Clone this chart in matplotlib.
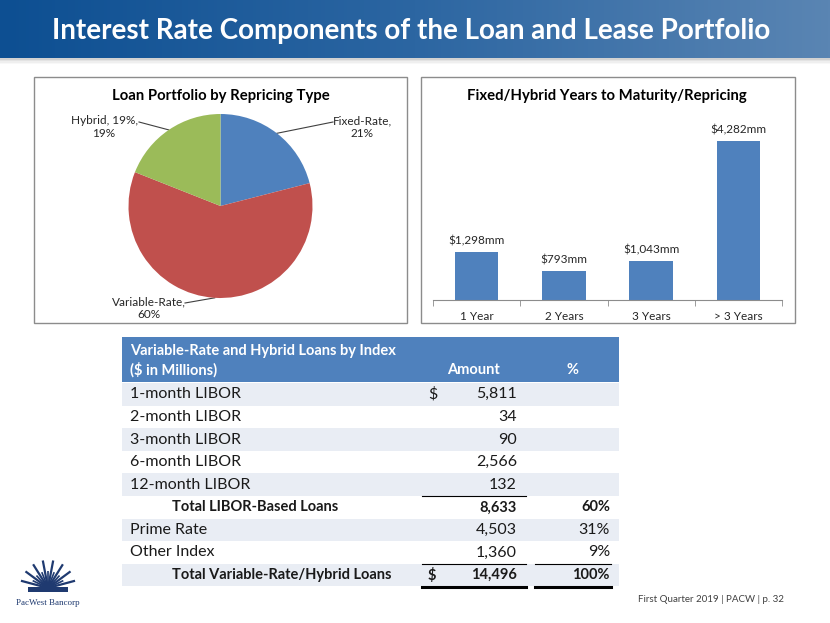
import numpy as np
import matplotlib
import matplotlib.pyplot as plt
from matplotlib.patches import Rectangle

matplotlib.use("Agg")
plt.rcParams["font.family"] = ["Lato", "DejaVu Sans"]

# pie data
pie_labels = ["Fixed-Rate", "Variable-Rate", "Hybrid"]
pie_shares = [21, 60, 19]
pie_colors = ["#4F81BD", "#C0504D", "#9BBB59"]

# bar data
bar_cats = ["1 Year", "2 Years", "3 Years", "> 3 Years"]
bar_vals = [1298, 793, 1043, 4282]

# table data
tbl_labels = ["1-month LIBOR", "2-month LIBOR", "3-month LIBOR", "6-month LIBOR",
              "12-month LIBOR", "Total LIBOR-Based Loans", "Prime Rate", "Other Index",
              "Total Variable-Rate/Hybrid Loans"]
tbl_amounts = [5811, 34, 90, 2566, 132, 8633, 4503, 1360, 14496]
tbl_pcts = ["", "", "", "", "", "60%", "31%", "9%", "100%"]
tbl_bold = [False, False, False, False, False, True, False, False, True]
tbl_dollar = [True, False, False, False, False, False, False, False, True]

W, H = 830, 623
fig = plt.figure(figsize=(W / 100, H / 100), dpi=100)


def px_axes(x, y, w, h, **kw):
    return fig.add_axes([x / W, 1 - (y + h) / H, w / W, h / H], **kw)


canvas = px_axes(0, 0, W, H)
canvas.set_xlim(0, W)
canvas.set_ylim(H, 0)
canvas.axis("off")

# title banner with gradient
grad = np.linspace(0, 1, 256).reshape(1, -1)
cmap = matplotlib.colors.LinearSegmentedColormap.from_list("ban", ["#0D4F92", "#2C66A2", "#5A85B3"])
canvas.imshow(grad, extent=(0, W, 58, 0), aspect="auto", cmap=cmap, zorder=1)
for i, a in enumerate([0.35, 0.22, 0.12, 0.05]):
    canvas.add_patch(Rectangle((0, 58 + i * 1.5), W, 1.5, color="#808080", alpha=a, lw=0, zorder=1))
canvas.text(411, 31, "Interest Rate Components of the Loan and Lease Portfolio", color="white",
            fontsize=20, fontweight="bold", ha="center", va="center", zorder=3)

# chart frames
canvas.add_patch(Rectangle((34, 77), 373, 246, fill=False, ec="#8C8C8C", lw=1, zorder=2))
canvas.add_patch(Rectangle((421, 77), 374, 246, fill=False, ec="#8C8C8C", lw=1, zorder=2))
canvas.text(221, 96, "Loan Portfolio by Repricing Type", fontsize=10.7, fontweight="bold",
            ha="center", va="center")
canvas.text(607, 96, "Fixed/Hybrid Years to Maturity/Repricing", fontsize=10.7, fontweight="bold",
            ha="center", va="center")

# pie
cx, cy, r = 220.5, 206, 92
pie_ax = px_axes(cx - 100, cy - 100, 200, 200)
pie_ax.pie(pie_shares, colors=pie_colors, startangle=90, counterclock=False, radius=0.92,
           wedgeprops=dict(linewidth=0))
pie_ax.set_xlim(-1, 1)
pie_ax.set_ylim(-1, 1)
pie_ax.set_aspect("equal")

label_text = {"Fixed-Rate": "Fixed-Rate,\n21%", "Variable-Rate": "Variable-Rate,\n60%",
              "Hybrid": "Hybrid, 19%,\n19%"}
line_end = {"Fixed-Rate": (333, 122), "Variable-Rate": (185, 303), "Hybrid": (139, 122)}
text_pos = {"Fixed-Rate": (362, 127), "Variable-Rate": (149, 308), "Hybrid": (104, 127)}
start = 90.0
for lab, share in zip(pie_labels, pie_shares):
    mid = np.deg2rad(start - share * 3.6 / 2)
    start -= share * 3.6
    ex, ey = cx + r * np.cos(mid), cy - r * np.sin(mid)
    lx, ly = line_end[lab]
    canvas.plot([ex, lx], [ey, ly], color="#404040", lw=0.8, zorder=4)
    tx, ty = text_pos[lab]
    canvas.text(tx, ty, label_text[lab], fontsize=8.5, ha="center", va="center",
                linespacing=1.2, color="#262626")

# bars
bar_ax = px_axes(433, 120, 349, 180)
x = np.arange(len(bar_cats))
bars = bar_ax.bar(x, bar_vals, width=0.5, color="#4F81BD")
bar_ax.bar_label(bars, labels=[f"${v:,}mm" for v in bar_vals], padding=4, fontsize=8.5,
                 color="#262626")
bar_ax.set_xlim(-0.5, len(bar_cats) - 0.5)
bar_ax.set_ylim(0, 4850)
bar_ax.set_xticks(x)
bar_ax.set_xticklabels(bar_cats, fontsize=8.5, color="#262626")
bar_ax.tick_params(axis="x", length=0, pad=8)
bar_ax.set_xticks(np.arange(-0.5, len(bar_cats)), minor=True)
bar_ax.tick_params(axis="x", which="minor", length=4, color="#8C8C8C")
bar_ax.set_yticks([])
for s in ["top", "right", "left"]:
    bar_ax.spines[s].set_visible(False)
bar_ax.spines["bottom"].set_color("#8C8C8C")

# table
tx0, tx1 = 122, 619
canvas.add_patch(Rectangle((tx0, 337), tx1 - tx0, 45, color="#4F81BD", lw=0, zorder=2))
canvas.text(130, 351, "Variable-Rate and Hybrid Loans by Index", color="white", fontsize=10.5,
            fontweight="bold", va="center", zorder=3)
canvas.text(130, 370, "($ in Millions)", color="white", fontsize=10.5, fontweight="bold",
            va="center", zorder=3)
canvas.text(473, 370, "Amount", color="white", fontsize=10.5, fontweight="bold",
            ha="center", va="center", zorder=3)
canvas.text(572, 370, "%", color="white", fontsize=10.5, fontweight="bold",
            ha="center", va="center", zorder=3)

row_h = 22.6
y0 = 383
for i, lab in enumerate(tbl_labels):
    top = y0 + i * row_h
    yc = top + row_h / 2
    if i % 2 == 0:
        canvas.add_patch(Rectangle((tx0, top), tx1 - tx0, row_h, color="#E9EDF4", lw=0, zorder=1))
    bold = "bold" if tbl_bold[i] else "normal"
    fs = 10.5 if tbl_bold[i] else 11.5
    canvas.text(172 if tbl_bold[i] else 130, yc, lab, fontsize=fs, fontweight=bold,
                va="center", color="#1A1A1A", zorder=3)
    if tbl_dollar[i]:
        canvas.text(428, yc, "$", fontsize=fs, fontweight=bold, va="center",
                    color="#1A1A1A", zorder=3)
    canvas.text(517, yc, f"{tbl_amounts[i]:,}", fontsize=fs, fontweight=bold, ha="right",
                va="center", color="#1A1A1A", zorder=3)
    if tbl_pcts[i]:
        canvas.text(610, yc, tbl_pcts[i], fontsize=fs, fontweight=bold, ha="right",
                    va="center", color="#1A1A1A", zorder=3)

# rule lines
line_y1 = y0 + 5 * row_h
line_y2 = y0 + 8 * row_h
line_y3 = y0 + 9 * row_h
canvas.plot([422, 526], [line_y1, line_y1], color="black", lw=0.8, zorder=4)
canvas.plot([422, 526], [line_y2, line_y2], color="black", lw=0.8, zorder=4)
canvas.plot([535, 611], [line_y2, line_y2], color="black", lw=0.8, zorder=4)
canvas.plot([422, 526], [line_y3 + 1, line_y3 + 1], color="black", lw=2.2, zorder=4)
canvas.plot([535, 611], [line_y3 + 1, line_y3 + 1], color="black", lw=2.2, zorder=4)

# logo
lx, ly = 48, 588
for k, ang in enumerate(np.linspace(15, 165, 15)):
    ln = 28 if k % 2 == 0 else 17
    a = np.deg2rad(ang)
    canvas.plot([lx, lx + ln * np.cos(a)], [ly, ly - ln * np.sin(a)], color="#1F3A70",
                lw=1.6 if k % 2 == 0 else 1.2, solid_capstyle="butt", zorder=3)
canvas.add_patch(Rectangle((lx - 20, ly - 1), 40, 5, color="#1F3A70", lw=0, zorder=3))
canvas.text(lx, 603, "PacWest Bancorp", fontsize=6.5, family="Liberation Serif",
            ha="center", va="center", color="#1F3A70")

canvas.text(784, 600, "First Quarter 2019 | PACW | p. 32", fontsize=7, ha="right",
            va="center", color="#404040")

fig.savefig("out.png", dpi=100)
